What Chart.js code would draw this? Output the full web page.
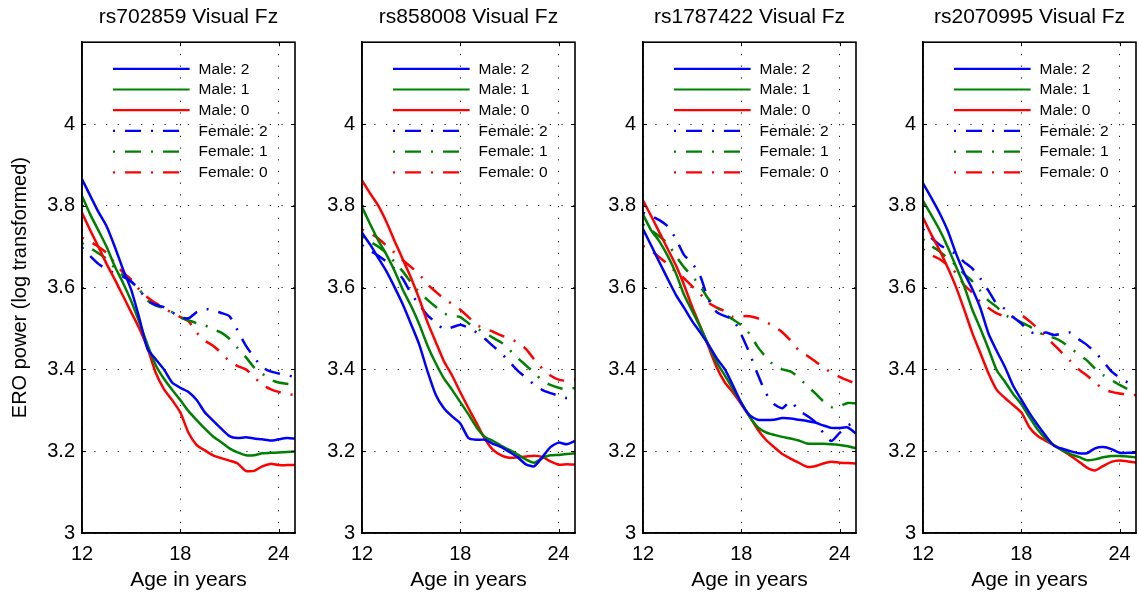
<!DOCTYPE html>
<html>
<head>
<meta charset="utf-8">
<title>ERO power by age, genotype and sex</title>
<script src="https://cdn.jsdelivr.net/npm/chart.js"></script>
<style>
    body { margin: 0; padding: 0; background: #fff; width: 1139px; height: 598px; overflow: hidden; position: relative; }
    canvas { position: absolute; top: 0; }
</style>
</head>
<body>

<script>

    // ages sampled every half year
    var ages = [12, 12.5, 13, 13.5, 14, 14.5, 15, 15.5, 16, 16.5, 17, 17.5, 18, 18.5, 19, 19.5, 20, 20.5, 21, 21.5, 22, 22.5, 23, 23.5, 24, 24.5, 25];

    var panelTitles = ['rs702859 Visual Fz', 'rs858008 Visual Fz', 'rs1787422 Visual Fz', 'rs2070995 Visual Fz'];
    var seriesLabels = ['Male: 2', 'Male: 1', 'Male: 0', 'Female: 2', 'Female: 1', 'Female: 0'];
    var xTicks = [12, 18, 24];
    var yTicks = [3, 3.2, 3.4, 3.6, 3.8, 4];

    // rs702859
    var rs702859Male2   = [3.865, 3.825, 3.785, 3.75, 3.70, 3.645, 3.595, 3.525, 3.45, 3.425, 3.40, 3.368, 3.355, 3.345, 3.325, 3.295, 3.275, 3.255, 3.237, 3.232, 3.234, 3.231, 3.229, 3.226, 3.229, 3.232, 3.231];
    var rs702859Male1   = [3.824, 3.779, 3.740, 3.70, 3.652, 3.612, 3.567, 3.515, 3.46, 3.41, 3.377, 3.35, 3.325, 3.298, 3.276, 3.255, 3.236, 3.222, 3.207, 3.197, 3.19, 3.19, 3.195, 3.196, 3.197, 3.198, 3.199];
    var rs702859Male0   = [3.783, 3.74, 3.70, 3.658, 3.62, 3.58, 3.54, 3.50, 3.452, 3.392, 3.352, 3.325, 3.295, 3.245, 3.215, 3.202, 3.19, 3.183, 3.177, 3.17, 3.152, 3.152, 3.163, 3.169, 3.166, 3.166, 3.166];
    var rs702859Female2 = [3.698, 3.677, 3.658, 3.645, 3.635, 3.627, 3.615, 3.595, 3.568, 3.558, 3.552, 3.54, 3.527, 3.525, 3.54, 3.548, 3.544, 3.538, 3.53, 3.495, 3.458, 3.43, 3.405, 3.395, 3.39, 3.386, 3.381];
    var rs702859Female1 = [3.709, 3.697, 3.684, 3.67, 3.648, 3.63, 3.615, 3.595, 3.568, 3.556, 3.55, 3.54, 3.527, 3.52, 3.513, 3.508, 3.498, 3.49, 3.475, 3.452, 3.43, 3.405, 3.39, 3.375, 3.368, 3.365, 3.362];
    var rs702859Female0 = [3.722, 3.712, 3.70, 3.685, 3.66, 3.637, 3.62, 3.595, 3.576, 3.562, 3.55, 3.538, 3.528, 3.518, 3.49, 3.47, 3.458, 3.44, 3.42, 3.408, 3.40, 3.382, 3.362, 3.352, 3.345, 3.34, 3.337];

    // rs858008
    var rs858008Male2   = [3.734, 3.705, 3.672, 3.639, 3.6, 3.558, 3.51, 3.46, 3.395, 3.338, 3.305, 3.285, 3.268, 3.232, 3.228, 3.228, 3.218, 3.21, 3.198, 3.185, 3.168, 3.163, 3.185, 3.21, 3.221, 3.217, 3.225];
    var rs858008Male1   = [3.797, 3.755, 3.715, 3.68, 3.64, 3.594, 3.555, 3.51, 3.458, 3.415, 3.378, 3.35, 3.32, 3.29, 3.258, 3.235, 3.225, 3.213, 3.203, 3.192, 3.18, 3.172, 3.183, 3.19, 3.191, 3.193, 3.195];
    var rs858008Male0   = [3.862, 3.83, 3.8, 3.76, 3.713, 3.668, 3.623, 3.572, 3.515, 3.467, 3.42, 3.385, 3.344, 3.305, 3.268, 3.23, 3.203, 3.19, 3.184, 3.185, 3.187, 3.189, 3.186, 3.175, 3.167, 3.168, 3.167];
    var rs858008Female2 = [3.704, 3.69, 3.678, 3.663, 3.645, 3.621, 3.585, 3.558, 3.532, 3.515, 3.498, 3.503, 3.509, 3.502, 3.49, 3.475, 3.457, 3.44, 3.418, 3.397, 3.38, 3.363, 3.35, 3.342, 3.336, 3.33, 3.332];
    var rs858008Female1 = [3.723, 3.712, 3.7, 3.684, 3.662, 3.639, 3.612, 3.588, 3.57, 3.553, 3.537, 3.531, 3.528, 3.513, 3.5, 3.49, 3.477, 3.466, 3.448, 3.428, 3.41, 3.392, 3.373, 3.362, 3.355, 3.351, 3.355];
    var rs858008Female0 = [3.742, 3.733, 3.72, 3.702, 3.685, 3.667, 3.65, 3.632, 3.608, 3.59, 3.573, 3.56, 3.546, 3.528, 3.509, 3.5, 3.492, 3.483, 3.475, 3.466, 3.45, 3.425, 3.402, 3.385, 3.375, 3.372, 3.375];

    // rs1787422
    var rs1787422Male2   = [3.743, 3.703, 3.662, 3.622, 3.583, 3.551, 3.518, 3.49, 3.46, 3.427, 3.40, 3.36, 3.318, 3.288, 3.277, 3.276, 3.277, 3.281, 3.28, 3.277, 3.274, 3.27, 3.263, 3.257, 3.257, 3.258, 3.243];
    var rs1787422Male1   = [3.779, 3.74, 3.713, 3.678, 3.636, 3.583, 3.543, 3.503, 3.46, 3.417, 3.385, 3.351, 3.318, 3.285, 3.259, 3.246, 3.24, 3.235, 3.231, 3.226, 3.219, 3.218, 3.218, 3.217, 3.215, 3.212, 3.207];
    var rs1787422Male0   = [3.813, 3.775, 3.735, 3.695, 3.655, 3.607, 3.553, 3.505, 3.455, 3.405, 3.368, 3.343, 3.315, 3.285, 3.253, 3.228, 3.21, 3.193, 3.182, 3.172, 3.162, 3.163, 3.17, 3.174, 3.172, 3.171, 3.17];
    var rs1787422Female2 = [3.783, 3.775, 3.765, 3.75, 3.72, 3.68, 3.66, 3.628, 3.57, 3.54, 3.53, 3.522, 3.485, 3.44, 3.388, 3.342, 3.315, 3.305, 3.322, 3.3, 3.287, 3.272, 3.245, 3.225, 3.245, 3.262, 3.274];
    var rs1787422Female1 = [3.755, 3.74, 3.725, 3.708, 3.678, 3.65, 3.628, 3.603, 3.572, 3.552, 3.535, 3.522, 3.508, 3.487, 3.455, 3.43, 3.41, 3.4, 3.395, 3.38, 3.36, 3.342, 3.322, 3.308, 3.31, 3.318, 3.317];
    var rs1787422Female0 = [3.702, 3.69, 3.674, 3.658, 3.638, 3.623, 3.603, 3.584, 3.563, 3.551, 3.542, 3.528, 3.53, 3.53, 3.525, 3.516, 3.505, 3.491, 3.471, 3.447, 3.434, 3.42, 3.405, 3.392, 3.382, 3.373, 3.365];

    // rs2070995
    var rs2070995Male2   = [3.855, 3.82, 3.783, 3.74, 3.685, 3.637, 3.597, 3.55, 3.487, 3.445, 3.406, 3.36, 3.326, 3.293, 3.264, 3.237, 3.213, 3.206, 3.2, 3.195, 3.195, 3.207, 3.21, 3.205, 3.196, 3.196, 3.196];
    var rs2070995Male1   = [3.812, 3.778, 3.742, 3.70, 3.653, 3.605, 3.547, 3.50, 3.45, 3.398, 3.37, 3.34, 3.315, 3.283, 3.253, 3.23, 3.214, 3.202, 3.193, 3.186, 3.178, 3.18, 3.185, 3.188, 3.188, 3.187, 3.185];
    var rs2070995Male0   = [3.771, 3.73, 3.692, 3.65, 3.603, 3.548, 3.49, 3.44, 3.39, 3.35, 3.33, 3.313, 3.295, 3.258, 3.237, 3.225, 3.215, 3.202, 3.189, 3.175, 3.16, 3.153, 3.164, 3.174, 3.177, 3.175, 3.172];
    var rs2070995Female2 = [3.743, 3.722, 3.705, 3.693, 3.682, 3.663, 3.647, 3.622, 3.592, 3.56, 3.548, 3.528, 3.512, 3.492, 3.487, 3.49, 3.484, 3.488, 3.49, 3.474, 3.46, 3.442, 3.42, 3.395, 3.38, 3.368, 3.361];
    var rs2070995Female1 = [3.718, 3.702, 3.689, 3.672, 3.655, 3.633, 3.616, 3.592, 3.568, 3.553, 3.533, 3.524, 3.515, 3.505, 3.492, 3.482, 3.477, 3.467, 3.452, 3.437, 3.422, 3.402, 3.386, 3.374, 3.362, 3.352, 3.347];
    var rs2070995Female0 = [3.694, 3.68, 3.67, 3.655, 3.636, 3.607, 3.588, 3.565, 3.55, 3.537, 3.53, 3.528, 3.532, 3.518, 3.5, 3.48, 3.46, 3.44, 3.42, 3.4, 3.385, 3.368, 3.352, 3.345, 3.341, 3.338, 3.337];

    var panelSeries = [
        [rs702859Male2, rs702859Male1, rs702859Male0, rs702859Female2, rs702859Female1, rs702859Female0],
        [rs858008Male2, rs858008Male1, rs858008Male0, rs858008Female2, rs858008Female1, rs858008Female0],
        [rs1787422Male2, rs1787422Male1, rs1787422Male0, rs1787422Female2, rs1787422Female1, rs1787422Female0],
        [rs2070995Male2, rs2070995Male1, rs2070995Male0, rs2070995Female2, rs2070995Female1, rs2070995Female0]
    ];

    var lineColors = ['#0000ff', '#008000', '#ff0000', '#0000ff', '#008000', '#ff0000'];
    var dashDot = [2, 10, 16, 10];

    // panel geometry
    var plotLeft = [82, 362, 643, 923];
    var plotWidth = 213;
    var axisWidth = [82, 70, 70, 70];
    var rightPad = 8;

    var fontFamily = '"Liberation Sans", Arial, Helvetica, sans-serif';
    Chart.defaults.font.family = fontFamily;
    Chart.defaults.color = '#000';

    // legend drawn inside the axes, matlab style
    var insideLegend = {
        id: 'insideLegend',
        afterDatasetsDraw: function(chart) {
            var ctx = chart.ctx;
            var area = chart.chartArea;
            ctx.save();
            chart.data.datasets.forEach(function(ds, i) {
                var y = area.top + 26.6 + i * 20.7;
                var x0 = area.left + 31;
                var x1 = area.left + (ds.borderDash.length ? 98.5 : 107.6);
                ctx.strokeStyle = ds.borderColor;
                ctx.lineWidth = 2.2;
                ctx.setLineDash(ds.borderDash);
                ctx.beginPath();
                ctx.moveTo(x0, y);
                ctx.lineTo(x1, y);
                ctx.stroke();
                ctx.setLineDash([]);
                ctx.fillStyle = '#000';
                ctx.font = '15.5px ' + fontFamily;
                ctx.textBaseline = 'middle';
                ctx.textAlign = 'left';
                ctx.fillText(ds.label, area.left + 116.6, y + 0.5);
            });
            ctx.restore();
        }
    };

    // closed box with inward tick marks
    var axesBox = {
        id: 'axesBox',
        afterDraw: function(chart) {
            var ctx = chart.ctx;
            var a = chart.chartArea;
            var xs = chart.scales.x, ys = chart.scales.y;
            ctx.save();
            ctx.strokeStyle = '#000';
            ctx.lineWidth = 1.6;
            ctx.setLineDash([]);
            ctx.strokeRect(a.left, a.top, a.right - a.left, a.bottom - a.top);
            ctx.lineWidth = 1;
            ctx.beginPath();
            yTicks.forEach(function(v) {
                var py = Math.round(ys.getPixelForValue(v)) + 0.5;
                ctx.moveTo(a.left, py); ctx.lineTo(a.left + 4, py);
                ctx.moveTo(a.right, py); ctx.lineTo(a.right - 4, py);
            });
            xTicks.forEach(function(v) {
                var px = Math.round(xs.getPixelForValue(v)) + 0.5;
                ctx.moveTo(px, a.bottom); ctx.lineTo(px, a.bottom - 4);
                ctx.moveTo(px, a.top); ctx.lineTo(px, a.top + 4);
            });
            ctx.stroke();
            ctx.restore();
        }
    };

    function tickLabel(value) {
        return String(Math.round(value * 10) / 10);
    }

    panelTitles.forEach(function(title, p) {
        var canvas = document.createElement('canvas');
        canvas.width = axisWidth[p] + plotWidth + rightPad;
        canvas.height = 598;
        canvas.style.left = (plotLeft[p] - axisWidth[p]) + 'px';
        document.body.appendChild(canvas);

        var datasets = panelSeries[p].map(function(values, s) {
            return {
                label: seriesLabels[s],
                data: ages.map(function(a, k) { return {x: a, y: values[k]}; }),
                borderColor: lineColors[s],
                backgroundColor: lineColors[s],
                borderWidth: 2.5,
                borderDash: s < 3 ? [] : dashDot,
                pointRadius: 0,
                tension: 0.2,
                fill: false
            };
        });

        new Chart(canvas, {
            type: 'line',
            data: { datasets: datasets },
            options: {
                responsive: false,
                animation: false,
                events: [],
                layout: { padding: { left: 0, right: rightPad, top: 0, bottom: 0 } },
                plugins: {
                    legend: { display: false },
                    tooltip: { enabled: false },
                    title: {
                        display: true,
                        text: title,
                        fullSize: false,
                        color: '#000',
                        font: { size: 21, weight: 'normal' },
                        padding: { top: 5, bottom: 12 }
                    }
                },
                scales: {
                    x: {
                        type: 'linear',
                        min: 12,
                        max: 25,
                        afterBuildTicks: function(scale) {
                            scale.ticks = xTicks.map(function(v) { return {value: v}; });
                        },
                        afterFit: function(scale) { scale.height = 65; },
                        grid: { color: '#111', lineWidth: 1, drawTicks: false },
                        border: { display: true, color: '#000', width: 1.6, dash: [1.2, 10.5] },
                        ticks: { font: { size: 20 }, padding: 9, maxRotation: 0, autoSkip: false, callback: tickLabel },
                        title: { display: true, text: 'Age in years', font: { size: 21 }, padding: { top: 0, bottom: 5 } }
                    },
                    y: {
                        type: 'linear',
                        min: 3,
                        max: 4.2,
                        afterBuildTicks: function(scale) {
                            scale.ticks = yTicks.map(function(v) { return {value: v}; });
                        },
                        afterFit: function(scale) { scale.width = axisWidth[p]; },
                        grid: { color: '#111', lineWidth: 1, drawTicks: false },
                        border: { display: true, color: '#000', width: 1.6, dash: [1.2, 10.5] },
                        ticks: { font: { size: 20 }, padding: 7, autoSkip: false, callback: tickLabel },
                        title: { display: p === 0, text: 'ERO power (log transformed)', font: { size: 20 }, padding: { top: 8, bottom: 0 } }
                    }
                }
            },
            plugins: [insideLegend, axesBox]
        });
    });

</script>
</body>
</html>
